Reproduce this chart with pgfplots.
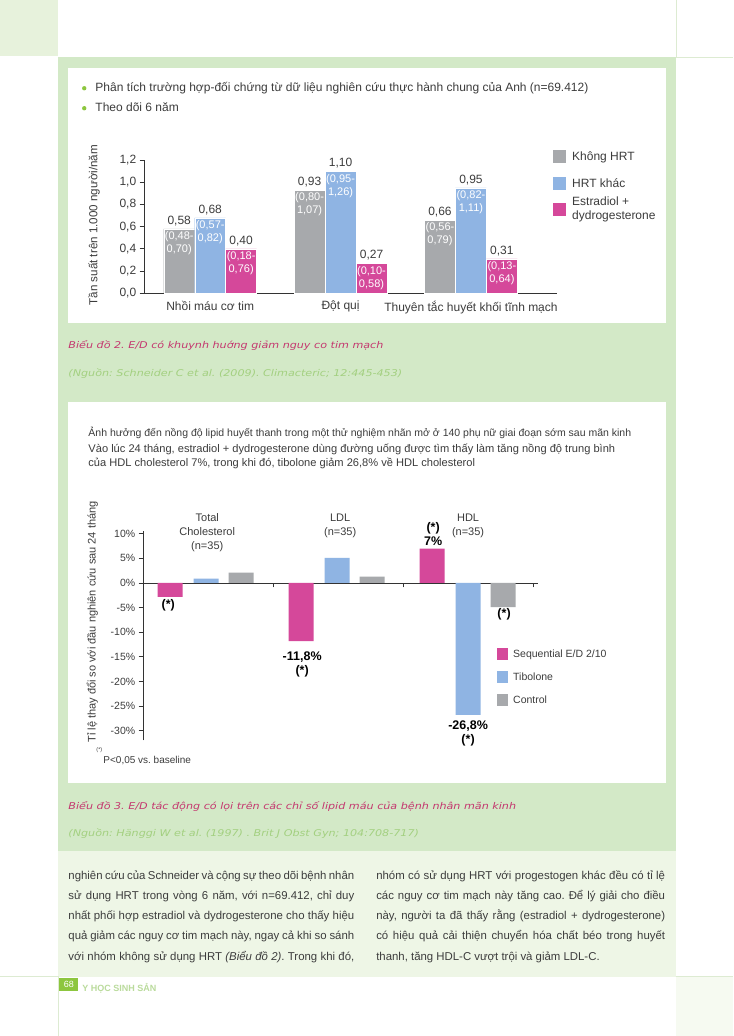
\documentclass[border=0pt]{standalone}
\usepackage{pgfplots}
\pgfplotsset{compat=1.18}
\usepackage{fontspec}
\setmainfont{Liberation Sans}
\newfontfamily\capfont{DejaVu Sans}[FakeStretch=1.2]

\definecolor{midgreen}{HTML}{D3E9C7}
\definecolor{lightgreen}{HTML}{EEF6E6}
\definecolor{topgreen}{HTML}{E7F2DC}
\definecolor{palegreen}{HTML}{F6FAF1}
\definecolor{lineg}{HTML}{DDEBD2}
\definecolor{dotgreen}{HTML}{8DC63F}
\definecolor{cgrey}{HTML}{A7A9AC}
\definecolor{cblue}{HTML}{8FB4E3}
\definecolor{cpink}{HTML}{D5489A}
\definecolor{capred}{HTML}{C4386F}
\definecolor{srcgreen}{HTML}{A3D080}
\definecolor{txt}{HTML}{3C3C3C}
\definecolor{foot}{HTML}{BADB9C}
\definecolor{axisgray}{HTML}{333333}

\newcommand\fsz[2]{\fontsize{#1}{#2}\selectfont}
\frenchspacing

\pgfplotsset{/pgf/number format/assume math mode=true}
\tikzset{
  ci/.style={font=\fsz{11}{13}, text=white, align=center, anchor=center, yshift=-14.5pt, inner sep=0pt},
  lab/.style={font=\fsz{11}{14}, text=txt, align=center, inner sep=0pt},
  blab/.style={font=\bfseries\fsz{12.5}{14}, text=black, align=center, inner sep=0pt},
}

\begin{document}
\begin{tikzpicture}
% ---------- page background ----------
\begin{scope}[x=1pt,y=-1pt]
  \fill[white] (0,0) rectangle (733,1036);
  \fill[topgreen] (0,0) rectangle (58,56);
  \draw[lineg, line width=0.6pt] (676,0) -- (676,57) -- (733,57);
  \fill[midgreen] (58,57) rectangle (676,851);
  \fill[lightgreen] (58,851) rectangle (676,977);
  \fill[palegreen] (676,977) rectangle (733,1036);
  \draw[lineg, line width=0.6pt] (0,977) -- (58,977) -- (58,1036);
  \draw[lineg, line width=0.6pt] (676,977) -- (733,977);
  \fill[white] (68,68) rectangle (666,323);
  \fill[white] (68,402) rectangle (666,783);
\end{scope}

% ---------- chart 1 ----------
\begin{axis}[
  at={(144pt,-293pt)}, anchor=south west,
  scale only axis, width=413pt, height=133pt,
  xmin=-0.506, xmax=2.66, ymin=0, ymax=1.2,
  axis x line=bottom, axis y line=left,
  axis line style={-, draw=axisgray, line width=0.7pt},
  tick align=outside, major tick length=4.5pt,
  tick style={draw=axisgray, line width=0.7pt},
  ytick={0,0.2,0.4,0.6,0.8,1.0,1.2},
  yticklabel style={font=\fsz{12}{14}, text=txt,
    /pgf/number format/fixed, /pgf/number format/fixed zerofill,
    /pgf/number format/precision=1, /pgf/number format/use comma},
  xtick={0,1,2},
  xticklabels={Nhồi máu cơ tim, Đột quị, Thuyên tắc huyết khối tĩnh mạch},
  xticklabel style={font=\fsz{12}{14}, text=txt},
  xtick style={draw=none},
  ybar, bar width=0.2375,
  nodes near coords={\pgfmathprintnumber[fixed,fixed zerofill,precision=2,use comma]{\pgfplotspointmeta}},
  every node near coord/.append style={font=\fsz{12}{14}, text=txt, inner sep=3pt},
  clip=false,
]
\addplot[fill=cgrey, draw=white, line width=0.4pt, bar shift=-0.2375]
  coordinates {(0,0.58) (1,0.93) (2,0.66)};
\addplot[fill=cblue, draw=white, line width=0.4pt, bar shift=0]
  coordinates {(0,0.68) (1,1.10) (2,0.95)};
\addplot[fill=cpink, draw=white, line width=0.4pt, bar shift=0.2375]
  coordinates {(0,0.40) (1,0.27) (2,0.31)};
% confidence intervals inside the bars
\node[ci] at (axis cs:-0.2375,0.58) {(0,48-\\0,70)};
\node[ci] at (axis cs:0,0.68) {(0,57-\\0,82)};
\node[ci] at (axis cs:0.2375,0.40) {(0,18-\\0,76)};
\node[ci] at (axis cs:0.7625,0.93) {(0,80-\\1,07)};
\node[ci] at (axis cs:1,1.10) {(0,95-\\1,26)};
\node[ci] at (axis cs:1.2375,0.27) {(0,10-\\0,58)};
\node[ci] at (axis cs:1.7625,0.66) {(0,56-\\0,79)};
\node[ci] at (axis cs:2,0.95) {(0,82-\\1,11)};
\node[ci] at (axis cs:2.2375,0.31) {(0,13-\\0,64)};
\end{axis}

% ---------- chart 2 ----------
\begin{axis}[
  at={(143pt,-740.6pt)}, anchor=south west,
  scale only axis, width=395pt, height=209.3pt,
  xmin=-0.481, xmax=2.534, ymin=-32, ymax=10.5,
  axis x line=middle, axis y line=left,
  axis line style={-, draw=axisgray, line width=0.7pt},
  tick align=outside, major tick length=4.5pt,
  tick style={draw=axisgray, line width=0.7pt},
  ytick={-30,-25,-20,-15,-10,-5,0,5,10},
  yticklabel={\pgfmathprintnumber{\tick}\%},
  yticklabel style={font=\fsz{10.5}{12}, text=txt},
  xtick={0.511,1.504,2.496}, xticklabels={,,},
  ybar, bar width=0.1908,
  clip=false,
]
\addplot[fill=cpink, draw=none, bar shift=-0.2748]
  coordinates {(0,-2.8) (1,-11.8) (2,7.0)};
\addplot[fill=cblue, draw=none, bar shift=0]
  coordinates {(0,0.9) (1,5.1) (2,-26.8)};
\addplot[fill=cgrey, draw=none, bar shift=0.267]
  coordinates {(0,2.1) (1,1.3) (2,-4.9)};
\node[lab] at (axis cs:0.008,10.15) {Total\\Cholesterol\\(n=35)};
\node[lab] at (axis cs:1.023,11.57) {LDL\\(n=35)};
\node[lab] at (axis cs:2.0,11.57) {HDL\\(n=35)};
\node[blab] at (axis cs:-0.29,-4.47) {(*)};
\node[blab] at (axis cs:0.733,-16.45) {-11,8\%\\(*)};
\node[blab] at (axis cs:1.733,9.95) {(*)\\7\%};
\node[blab] at (axis cs:2.275,-6.29) {(*)};
\node[blab] at (axis cs:2.0,-30.66) {-26,8\%\\(*)};
\end{axis}

% ---------- texts and legends ----------
\begin{scope}[x=1pt,y=-1pt]
  % chart 1 header
  \fill[dotgreen] (84,88) circle (2.2);
  \fill[dotgreen] (84,108) circle (2.2);
  \node[anchor=base west, inner sep=0pt, font=\fsz{12}{14}, text=txt] at (95,91.6)
    {Phân tích trường hợp-đối chứng từ dữ liệu nghiên cứu thực hành chung của Anh (n=69.412)};
  \node[anchor=base west, inner sep=0pt, font=\fsz{12}{14}, text=txt] at (95,111.6)
    {Theo dõi 6 năm};
  \node[rotate=90, inner sep=0pt, font=\fsz{11.6}{14}, text=txt] at (94,225)
    {Tần suất trên 1.000 người/năm};
  % chart 1 legend
  \fill[cgrey] (553,150) rectangle (566,163);
  \fill[cblue] (553,177) rectangle (566,190);
  \fill[cpink] (553,203) rectangle (566,216);
  \node[anchor=base west, inner sep=0pt, font=\fsz{12}{14}, text=txt] at (572,160.6) {Không HRT};
  \node[anchor=base west, inner sep=0pt, font=\fsz{12}{14}, text=txt] at (572,187.6) {HRT khác};
  \node[anchor=base west, inner sep=0pt, font=\fsz{12}{14}, text=txt] at (572,205.6) {Estradiol +};
  \node[anchor=base west, inner sep=0pt, font=\fsz{12}{14}, text=txt] at (572,219.6) {dydrogesterone};
  % caption 2
  \node[anchor=base west, inner sep=0pt, font=\capfont\itshape\fsz{9.3}{11}, text=capred] at (68,348.3)
    {Biểu đồ 2. E/D có khuynh huớng giảm nguy co tim mạch};
  \node[anchor=base west, inner sep=0pt, font=\capfont\itshape\fsz{9.3}{11}, text=srcgreen] at (68,376.3)
    {(Nguồn: Schneider C et al. (2009). Climacteric; 12:445-453)};

  % chart 2 header
  \node[anchor=base west, inner sep=0pt, font=\fsz{10.5}{14}, text=txt] at (88,436.3)
    {Ảnh hưởng đến nồng độ lipid huyết thanh trong một thử nghiệm nhãn mở ở 140 phụ nữ giai đoạn sớm sau mãn kinh};
  \node[anchor=base west, inner sep=0pt, font=\fsz{11.1}{14}, text=txt] at (88,452.3)
    {Vào lúc 24 tháng, estradiol + dydrogesterone dùng đường uống được tìm thấy làm tăng nồng độ trung bình};
  \node[anchor=base west, inner sep=0pt, font=\fsz{11.1}{14}, text=txt] at (88,466.3)
    {của HDL cholesterol 7\%, trong khi đó, tibolone giảm 26,8\% về HDL cholesterol};
  \node[rotate=90, inner sep=0pt, font=\fsz{11}{14}, text=txt] at (92,622)
    {Tỉ lệ thay đổi so với đầu nghiên cứu sau 24 tháng};
  % chart 2 legend
  \fill[cpink] (497,648) rectangle (508,660);
  \fill[cblue] (497,671) rectangle (508,683);
  \fill[cgrey] (497,694) rectangle (508,706);
  \node[anchor=base west, inner sep=0pt, font=\fsz{10.5}{12}, text=txt] at (513,657.4) {Sequential E/D 2/10};
  \node[anchor=base west, inner sep=0pt, font=\fsz{10.5}{12}, text=txt] at (513,680.4) {Tibolone};
  \node[anchor=base west, inner sep=0pt, font=\fsz{10.5}{12}, text=txt] at (513,703.4) {Control};
  % footnote
  \node[anchor=base west, inner sep=0pt, font=\fsz{5.5}{6}, text=txt] at (96,752) {(*)};
  \node[anchor=base west, inner sep=0pt, font=\fsz{10}{12}, text=txt] at (103,763.2) {P<0,05 vs. baseline};
  % caption 3
  \node[anchor=base west, inner sep=0pt, font=\capfont\itshape\fsz{9.3}{11}, text=capred] at (68,809.3)
    {Biểu đồ 3. E/D tác động có lọi trên các chỉ số lipid máu của bệnh nhân mãn kinh};
  \node[anchor=base west, inner sep=0pt, font=\capfont\itshape\fsz{9.3}{11}, text=srcgreen] at (68,836.3)
    {(Nguồn: Hänggi W et al. (1997) . Brit J Obst Gyn; 104:708-717)};

  % body text
  \begin{scope}[every node/.style={anchor=base west, inner sep=0pt, font=\fsz{11.4}{14}, text=txt}]
    \node at (68,879.6) {\makebox[286pt][s]{nghiên cứu của Schneider và cộng sự theo dõi bệnh nhân}};
    \node at (68,899.8) {\makebox[286pt][s]{sử dụng HRT trong vòng 6 năm, với n=69.412, chỉ duy}};
    \node at (68,920.0) {\makebox[286pt][s]{nhất phối hợp estradiol và dydrogesterone cho thấy hiệu}};
    \node at (68,940.2) {\makebox[286pt][s]{quả giảm các nguy cơ tim mạch này, ngay cả khi so sánh}};
    \node at (68,960.4) {\makebox[286pt][s]{với nhóm không sử dụng HRT \textit{(Biểu đồ 2)}. Trong khi đó,}};
    \node at (376,879.6) {\makebox[289pt][s]{nhóm có sử dụng HRT với progestogen khác đều có tỉ lệ}};
    \node at (376,899.8) {\makebox[289pt][s]{các nguy cơ tim mạch này tăng cao. Để lý giải cho điều}};
    \node at (376,920.0) {\makebox[289pt][s]{này, người ta đã thấy rằng (estradiol + dydrogesterone)}};
    \node at (376,940.2) {\makebox[289pt][s]{có hiệu quả cải thiện chuyển hóa chất béo trong huyết}};
    \node at (376,960.4) {thanh, tăng HDL-C vượt trội và giảm LDL-C.};
  \end{scope}

  % footer
  \fill[dotgreen] (59,978) rectangle (78,991);
  \node[inner sep=0pt, font=\fsz{9}{10}, text=white] at (68.5,984.5) {68};
  \node[anchor=base west, inner sep=0pt, font=\bfseries\fsz{9}{10}, text=foot] at (82,991.3) {Y HỌC SINH SẢN};
\end{scope}
\end{tikzpicture}
\end{document}
